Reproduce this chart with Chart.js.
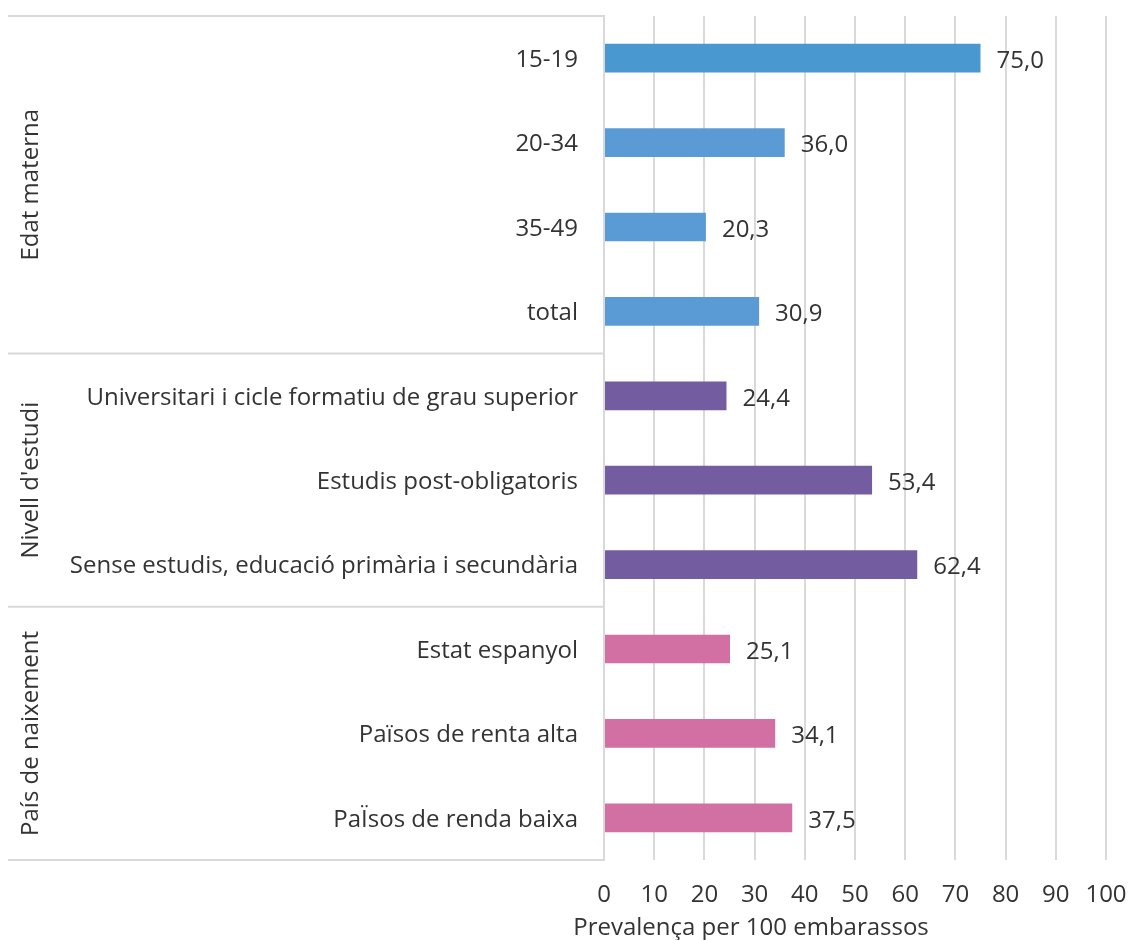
<!DOCTYPE html>
<html>
<head>
<meta charset="utf-8">
<script src="https://cdn.jsdelivr.net/npm/chart.js@4"></script>
<style>
html,body{margin:0;padding:0;background:#fff;}
#wrap{width:1131px;height:940px;}
</style>
</head>
<body>
<div id="wrap"><canvas id="c" width="1131" height="940"></canvas></div>
<script>
const categories = ['15-19','20-34','35-49','total','Universitari i cicle formatiu de grau superior','Estudis post-obligatoris','Sense estudis, educació primària i secundària','Estat espanyol','Països de renta alta','PaÏsos de renda baixa'];
const values = [75.0, 36.0, 20.3, 30.9, 24.4, 53.4, 62.4, 25.1, 34.1, 37.5];
const valueLabels = ['75,0','36,0','20,3','30,9','24,4','53,4','62,4','25,1','34,1','37,5'];
const groupNames = ['Edat materna', "Nivell d'estudi", 'País de naixement'];
const groupSizes = [4, 3, 3];
const barColors = ['#4a98d0','#5b9bd5','#5b9bd5','#5b9bd5','#745ca0','#745ca0','#745ca0','#d370a3','#d370a3','#d370a3'];
const xTicks = [0,10,20,30,40,50,60,70,80,90,100];
const xTitle = 'Prevalença per 100 embarassos';

const FONT = "'Open Sans', sans-serif";
const FSIZE = 24;
const TEXT = '#333333';
const GRID = '#d9d9d9';

const decor = {
  id: 'decor',
  afterDraw(chart) {
    const ctx = chart.ctx;
    const ys = chart.scales.y;
    const ca = chart.chartArea;
    const leftX = 8;
    ctx.save();
    ctx.strokeStyle = GRID;
    ctx.lineWidth = 2;
    let idx = 0;
    const bounds = [ys.getPixelForValue(-0.5)];
    groupSizes.forEach(n => { idx += n; bounds.push(ys.getPixelForValue(idx - 0.5)); });
    bounds.forEach(y => {
      ctx.beginPath(); ctx.moveTo(leftX, y); ctx.lineTo(ca.left, y); ctx.stroke();
    });
    ctx.fillStyle = TEXT;
    ctx.font = FSIZE + "px " + FONT;
    ctx.textAlign = 'center';
    ctx.textBaseline = 'middle';
    groupNames.forEach((g, i) => {
      const yc = (bounds[i] + bounds[i+1]) / 2;
      ctx.save();
      ctx.translate(31, yc);
      ctx.rotate(-Math.PI/2);
      ctx.fillText(g, 0, 0);
      ctx.restore();
    });
    const meta = chart.getDatasetMeta(0);
    ctx.textAlign = 'left';
    meta.data.forEach((bar, i) => {
      ctx.fillText(valueLabels[i], bar.x + 16, bar.y + 3);
    });
    ctx.textAlign = 'center';
    ctx.fillText(xTitle, ca.left + 147, ca.bottom + 68);
    ctx.restore();
  }
};

new Chart(document.getElementById('c'), {
  type: 'bar',
  data: {
    labels: categories,
    datasets: [{
      data: values,
      backgroundColor: barColors,
      barPercentage: 0.34,
      categoryPercentage: 1.0,
      borderWidth: 0
    }]
  },
  options: {
    indexAxis: 'y',
    responsive: false,
    animation: false,
    devicePixelRatio: 1,
    layout: { padding: { left: 8, right: 25, top: 16, bottom: 0 } },
    plugins: { legend: { display: false }, tooltip: { enabled: false } },
    scales: {
      x: {
        min: 0, max: 100,
        afterBuildTicks(s) { s.ticks = xTicks.map(v => ({ value: v })); },
        afterFit(s) { s.height = 80; s.paddingLeft = 0; s.paddingRight = 0; },
        grid: { color: GRID, lineWidth: 2, drawTicks: false },
        border: { display: false },
        ticks: { color: TEXT, font: { family: FONT, size: FSIZE }, padding: 21, maxRotation: 0 }
      },
      y: {
        afterFit(s) { s.width = 596; s.paddingTop = 0; s.paddingBottom = 0; },
        grid: { display: false, drawTicks: false },
        border: { display: true, color: GRID, width: 2 },
        ticks: { color: TEXT, font: { family: FONT, size: FSIZE }, padding: 26, autoSkip: false, labelOffset: 2 }
      }
    }
  },
  plugins: [decor]
});
</script>
</body>
</html>
